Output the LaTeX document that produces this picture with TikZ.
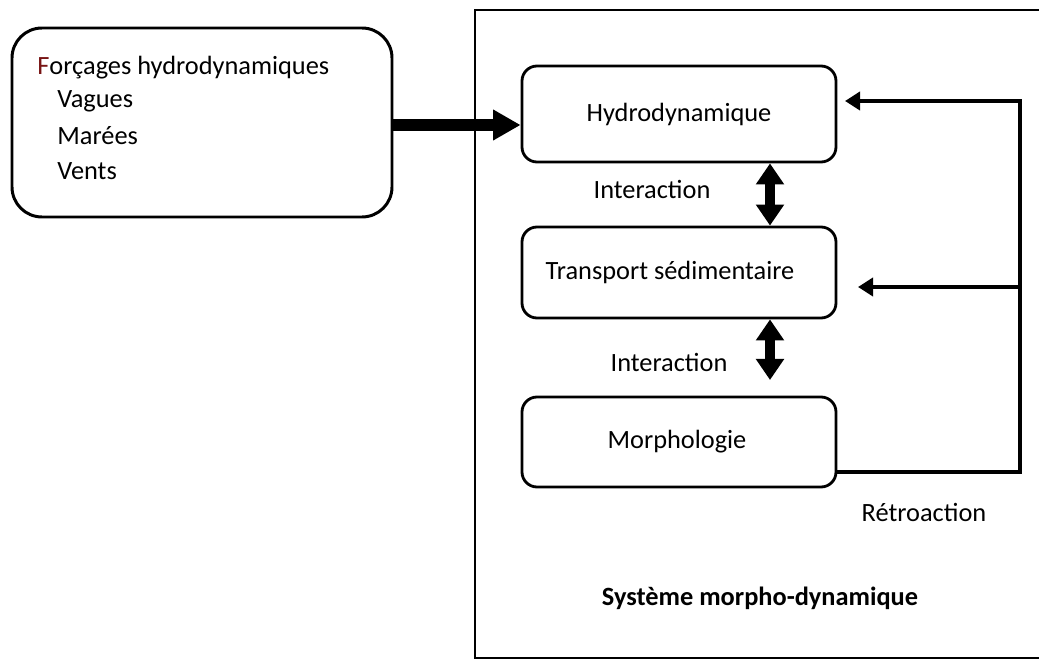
\documentclass[tikz,border=0pt]{standalone}
\usepackage{fontspec}
\setmainfont{Carlito}
\usetikzlibrary{arrows.meta}
\definecolor{f_red}{RGB}{120, 20, 20}
\tikzstyle{box}=[rectangle,rounded corners=0.3cm,draw=black,line width=1.6pt,
  minimum width=6.28cm,inner sep=0pt]
\tikzstyle{bigbox}=[rectangle,rounded corners=0.6cm,draw=black,line width=1.7pt,
  minimum width=7.6cm,minimum height=3.78cm,inner sep=0pt]
\tikzstyle{lbl}=[inner sep=0pt]
\tikzstyle{none}=[]

\begin{document}
\begin{tikzpicture}[every node/.style={font=\fontsize{15}{18}\selectfont}]
    \useasboundingbox (0,0) rectangle (20.78,-13.2);
    % frame of the system
    \draw [line width=1.2pt] (9.5,-0.2) rectangle (21.5,-13.16);
    \node [style=bigbox] (0) at (4.04, -2.45) {};
    \node [style=lbl, anchor=west] (t0) at (0.74, -1.36) {\textcolor{f_red}{F}orçages hydrodynamiques};
    \node [style=lbl, anchor=west] (t1) at (1.14, -2.02) {Vagues};
    \node [style=lbl, anchor=west] (t2) at (1.14, -2.72) {Marées};
    \node [style=lbl, anchor=west] (t3) at (1.14, -3.42) {Vents};
    \node [style=box, minimum height=1.92cm] (1) at (13.58, -2.28) {Hydrodynamique};
    \node [style=box, minimum height=1.82cm] (2) at (13.58, -5.45) {\hspace{-0.36cm}Transport sédimentaire};
    \node [style=box, minimum height=1.8cm] (3) at (13.58, -8.84) {\hspace{-0.08cm}Morphologie};
    \node [style=lbl] (4) at (13.04, -3.78) {Interaction};
    \node [style=lbl] (5) at (13.38, -7.24) {Interaction};
    \node [style=lbl] (6) at (18.48, -10.24) {Rétroaction};
    \node [style=lbl] (7) at (15.2, -11.96) {\textbf{Système morpho-dynamique}};
    \coordinate (8) at (15.4, 0);
    \coordinate (9) at (15.4, -7.6);
    \coordinate (10) at (20.4, -9.44);
    \coordinate (11) at (20.4, -2.02);
    \coordinate (12) at (20.4, -5.74);
    \draw [line width=6.8pt, -{Triangle[length=0.55cm,width=0.58cm]}] (0.east |- 0,-2.5) to (1.west |- 0,-2.5);
    \draw [line width=5.4pt, {Triangle[length=0.42cm,width=0.54cm]}-{Triangle[length=0.42cm,width=0.54cm]}] (8 |- 1.south) to (8 |- 2.north);
    \draw [line width=5.4pt, {Triangle[length=0.42cm,width=0.54cm]}-{Triangle[length=0.42cm,width=0.54cm]}] (8 |- 2.south) to (9);
    \draw [line width=2.8pt, -{Triangle[length=0.3cm,width=0.36cm]}] (3.east |- 10) to (10) to (11) to (16.9, -2.02);
    \draw [line width=2.8pt, -{Triangle[length=0.3cm,width=0.36cm]}] (12) to (17.16, -5.74);
\end{tikzpicture}
\end{document}
